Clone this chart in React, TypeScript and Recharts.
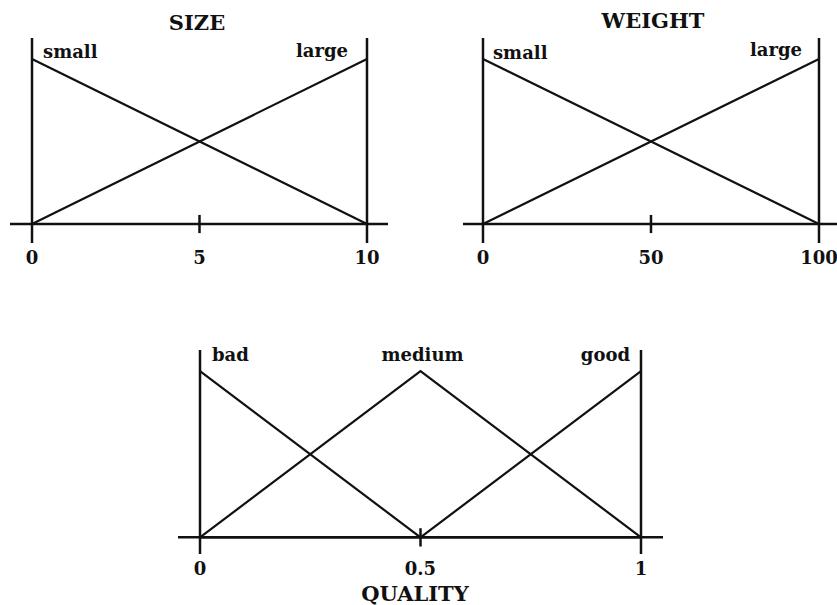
import { LineChart, Line, XAxis, YAxis, ReferenceLine, LabelList } from 'recharts'

const FONT = '"DejaVu Serif", "Liberation Serif", serif'
const INK = '#111'

// SIZE
const sizeX = [0, 10]
const sizeSmall = [1, 0]
const sizeLarge = [0, 1]
const sizeTicks = [0, 5, 10]

// WEIGHT
const weightX = [0, 100]
const weightSmall = [1, 0]
const weightLarge = [0, 1]
const weightTicks = [0, 50, 100]

// QUALITY
const qualityX = [0, 0.5, 1]
const qualityBad = [1, 0, 0]
const qualityMedium = [0, 1, 0]
const qualityGood = [0, 0, 1]
const qualityTicks = [0, 0.5, 1]

interface Series {
  name: string
  values: number[]
  anchor: 'start' | 'middle' | 'end'
  dx: number
  dy: number
}

interface ChartProps {
  readonly width: number
  readonly height: number
  readonly xs: number[]
  readonly series: Series[]
  readonly ticks: number[]
  readonly xDomain: [number, number]
  readonly yDomain: [number, number]
  readonly margin: { top: number; right: number; bottom: number; left: number }
  readonly axisHeight: number
}

const textStyle = { fill: INK, fontSize: 18, fontWeight: 700, fontFamily: FONT }

function FuzzyChart({ width, height, xs, series, ticks, xDomain, yDomain, margin, axisHeight }: ChartProps) {
  const data = xs.map((x, i) => {
    const row: Record<string, number> = { x }
    series.forEach((s) => {
      row[s.name] = s.values[i]
    })
    return row
  })
  const mid = ticks[Math.floor(ticks.length / 2)]

  return (
    <LineChart width={width} height={height} data={data} margin={margin}>
      <XAxis
        dataKey="x"
        type="number"
        domain={xDomain}
        allowDataOverflow
        ticks={ticks}
        interval={0}
        axisLine={false}
        tickLine={false}
        height={axisHeight}
        tick={textStyle}
      />
      <YAxis type="number" domain={yDomain} allowDataOverflow hide />
      <ReferenceLine y={0} stroke={INK} strokeWidth={2.5} />
      <ReferenceLine x={xs[0]} stroke={INK} strokeWidth={2.5} />
      <ReferenceLine x={xs[xs.length - 1]} stroke={INK} strokeWidth={2.5} />
      <ReferenceLine
        segment={[
          { x: mid, y: -0.055 },
          { x: mid, y: 0.055 },
        ]}
        stroke={INK}
        strokeWidth={2.5}
      />
      {series.map((s) => (
        <Line
          key={s.name}
          dataKey={s.name}
          type="linear"
          stroke={INK}
          strokeWidth={2.2}
          dot={false}
          isAnimationActive={false}
        >
          <LabelList
            dataKey={s.name}
            content={(p: any) =>
              p.value === 1 ? (
                <text
                  x={Number(p.x) + s.dx}
                  y={Number(p.y) + s.dy}
                  textAnchor={s.anchor}
                  {...textStyle}
                >
                  {s.name}
                </text>
              ) : null
            }
          />
        </Line>
      ))}
    </LineChart>
  )
}

const titleStyle = {
  position: 'absolute' as const,
  transform: 'translate(-50%, -50%)',
  fontFamily: FONT,
  fontWeight: 700,
  fontSize: 21,
  color: INK,
  whiteSpace: 'nowrap' as const,
}

export default function App() {
  return (
    <div style={{ position: 'absolute', left: 0, top: 0, width: 837, height: 605, background: '#fff', overflow: 'hidden' }}>
      <div style={{ ...titleStyle, left: 197, top: 22 }}>SIZE</div>
      <div style={{ ...titleStyle, left: 653, top: 20 }}>WEIGHT</div>
      <div style={{ ...titleStyle, left: 415, top: 593 }}>QUALITY</div>

      <div style={{ position: 'absolute', left: 0, top: 0 }}>
        <FuzzyChart
          width={400}
          height={270}
          xs={sizeX}
          ticks={sizeTicks}
          xDomain={[-0.657, 10.627]}
          yDomain={[-0.115, 1.127]}
          margin={{ top: 38, right: 12, bottom: 0, left: 10 }}
          axisHeight={27}
          series={[
            { name: 'small', values: sizeSmall, anchor: 'start', dx: 11, dy: -1 },
            { name: 'large', values: sizeLarge, anchor: 'end', dx: -19, dy: -2 },
          ]}
        />
      </div>

      <div style={{ position: 'absolute', left: 463, top: 0 }}>
        <FuzzyChart
          width={374}
          height={270}
          xs={weightX}
          ticks={weightTicks}
          xDomain={[-5.95, 105.36]}
          yDomain={[-0.115, 1.127]}
          margin={{ top: 38, right: 0, bottom: 0, left: 0 }}
          axisHeight={27}
          series={[
            { name: 'small', values: weightSmall, anchor: 'start', dx: 10, dy: 0 },
            { name: 'large', values: weightLarge, anchor: 'end', dx: -17, dy: -3 },
          ]}
        />
      </div>

      <div style={{ position: 'absolute', left: 178, top: 320 }}>
        <FuzzyChart
          width={485}
          height={264}
          xs={qualityX}
          ticks={qualityTicks}
          xDomain={[-0.0499, 1.0499]}
          yDomain={[-0.1, 1.127]}
          margin={{ top: 30, right: 0, bottom: 0, left: 0 }}
          axisHeight={30}
          series={[
            { name: 'bad', values: qualityBad, anchor: 'start', dx: 12, dy: -10 },
            { name: 'medium', values: qualityMedium, anchor: 'middle', dx: 2, dy: -10 },
            { name: 'good', values: qualityGood, anchor: 'end', dx: -11, dy: -10 },
          ]}
        />
      </div>
    </div>
  )
}
